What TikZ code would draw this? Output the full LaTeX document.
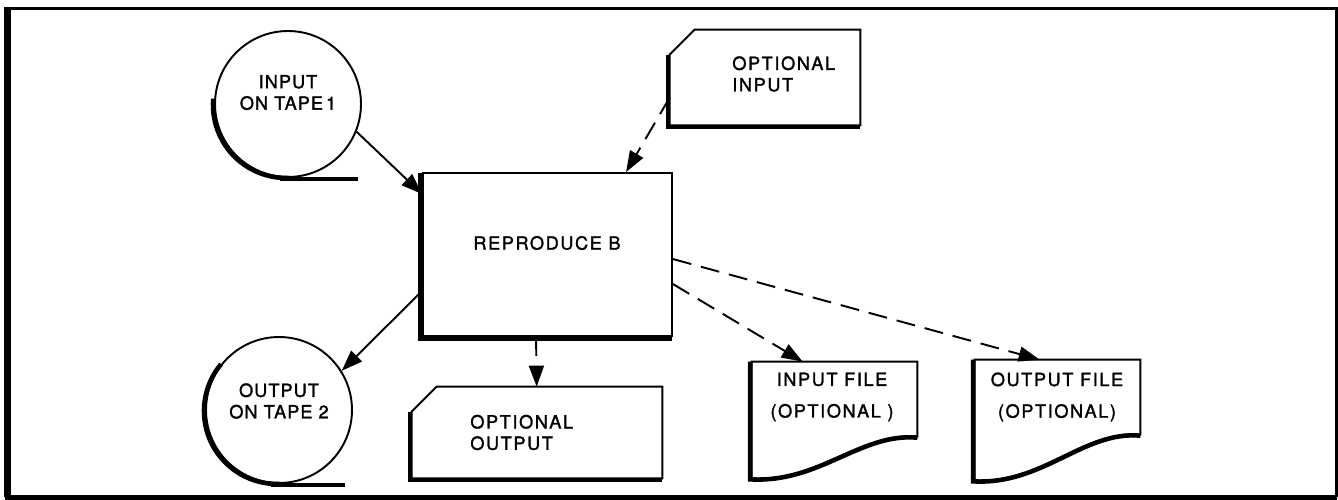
\documentclass[tikz,border=0pt]{standalone}
\usepackage{fontspec}
\newfontfamily\letterwide{TeX Gyre Heros}[LetterSpace=9,FakeBold=1.6]
\newfontfamily\letternarrow{TeX Gyre Heros}[LetterSpace=6,FakeBold=1.6]
\usetikzlibrary{arrows.meta,calc}

\begin{document}
\begin{tikzpicture}[x=0.02cm,y=0.02cm,
  outline/.style={line width=1.1pt},
  heavy/.style={line width=2.6pt},
  tapebox/.style={circle,draw,outline,minimum size=2.92cm,inner sep=0pt},
  shapebox/.style={rectangle,minimum width=#1,inner sep=0pt},
  lblc/.style={font=\letternarrow\fontsize{10.3}{12.2}\selectfont,align=center,inner sep=0pt},
  lblw/.style={font=\letterwide\fontsize{10.3}{12.2}\selectfont,align=left,inner sep=0pt},
  lbldoc/.style={font=\letterwide\fontsize{10.3}{18}\selectfont,align=center,inner sep=0pt},
  flow/.style={line width=1.1pt,-{Triangle[length=0.42cm,width=0.3cm]}},
  optflow/.style={flow,dash pattern=on 0.38cm off 0.2cm},
]
\useasboundingbox (0,0) rectangle (1338,500);

% outer frame, heavy on the left and bottom
\draw[line width=1.2pt] (7,491.5) -- (1336.5,491.5) -- (1336.5,3);
\draw[line width=4.5pt] (7.5,492.5) -- (7.5,2.5);
\draw[line width=2.8pt] (5,2.5) -- (1337,2.5);

% tapes
\node[tapebox] (tin) at (288,396) {};
\draw[heavy] ([shift={(-2,-1)}]tin.center) ++(175:73) arc[start angle=175,end angle=272,radius=73];
\draw[line width=2.2pt] ($(tin.south)+(-8,-1)$) -- ++(78,0);
\node[lblc] (tinT) at (288,407.5) {INPUT\\ON TAPE\,1};

\node[tapebox] (tout) at (279,90) {};
\draw[heavy] ([shift={(-2,-1)}]tout.center) ++(140:73) arc[start angle=140,end angle=272,radius=73];
\draw[line width=2.2pt] ($(tout.south)+(-8,-1)$) -- ++(74,0);
\node[lblc] (toutT) at (279,99) {OUTPUT\\ON TAPE 2};

% process box
\node[shapebox=4.98cm,minimum height=3.26cm,draw,outline] (box) at (547.5,245.5) {};
\draw[heavy] ($(box.north west)+(-1.5,-1)$) -- ($(box.south west)+(-1.5,-1.5)$) -- ($(box.south east)+(-1,-1.5)$);
\node[lblw] (boxT) at (547,257) {REPRODUCE B};

% punched cards
\node[shapebox=3.8cm,minimum height=1.9cm] (cin) at (765,422.5) {};
\draw[outline] ($(cin.north west)+(0,-25)$) -- ($(cin.north west)+(25,0)$) -- (cin.north east) -- (cin.south east) -- (cin.south west) -- cycle;
\draw[heavy] ($(cin.north west)+(-1.5,-25)$) -- ($(cin.south west)+(-1.5,-1.5)$) -- ($(cin.south east)+(0,-1.5)$);
\node[lblw,anchor=west] (cinT) at (732,426) {OPTIONAL\\INPUT};

\node[shapebox=5cm,minimum height=1.82cm] (cout) at (537,67.5) {};
\draw[outline] ($(cout.north west)+(0,-25)$) -- ($(cout.north west)+(25,0)$) -- (cout.north east) -- (cout.south east) -- (cout.south west) -- cycle;
\draw[heavy] ($(cout.north west)+(-1.5,-25)$) -- ($(cout.south west)+(-1.5,-1.5)$) -- ($(cout.south east)+(0,-1.5)$);
\node[lblw,anchor=west] (coutT) at (470,67.5) {OPTIONAL\\OUTPUT};

% document files
\node[shapebox=3.3cm,minimum height=2.32cm] (fin) at (834.5,80) {};
\draw[outline] (fin.south west) -- (fin.north west) -- (fin.north east) -- ($(fin.north east)+(0,-75)$)
  .. controls +(-57,5) and ($(fin.south west)+(68,-4)$) .. (fin.south west);
\draw[heavy] ($(fin.north west)+(-1.5,0)$) -- ($(fin.south west)+(-1.5,-1)$)
  .. controls ($(fin.south west)+(68,-5)$) and ($(fin.north east)+(-57,-71)$) .. ($(fin.north east)+(0,-76)$);
\node[lbldoc] (finT) at (832,103) {INPUT FILE\\(OPTIONAL )};

\node[shapebox=3.3cm,minimum height=2.4cm] (fout) at (1057.5,80) {};
\draw[outline] (fout.south west) -- (fout.north west) -- (fout.north east) -- ($(fout.north east)+(0,-75)$)
  .. controls +(-57,5) and ($(fout.south west)+(68,-4)$) .. (fout.south west);
\draw[heavy] ($(fout.north west)+(-1.5,0)$) -- ($(fout.south west)+(-1.5,-1)$)
  .. controls ($(fout.south west)+(68,-5)$) and ($(fout.north east)+(-57,-71)$) .. ($(fout.north east)+(0,-76)$);
\node[lbldoc] (foutT) at (1057,103) {OUTPUT FILE\\(OPTIONAL)};

% connectors
\draw[flow] (tin.-22) -- ($(box.north west)+(0,-22)$);
\draw[flow] ($(box.north west)+(0,-119)$) -- (tout.32);
\draw[optflow] ($(cin.north west)+(0,-68)$) -- ($(box.north west)+(204,0)$);
\draw[optflow] ($(box.south west)+(114,0)$) -- ($(cout.north west)+(125,0)$);
\draw[optflow] ($(box.north east)+(0,-112)$) -- ($(fin.north west)+(51,0)$);
\draw[optflow] ($(box.north east)+(0,-87)$) -- ($(fout.north west)+(65,0)$);
\end{tikzpicture}
\end{document}
